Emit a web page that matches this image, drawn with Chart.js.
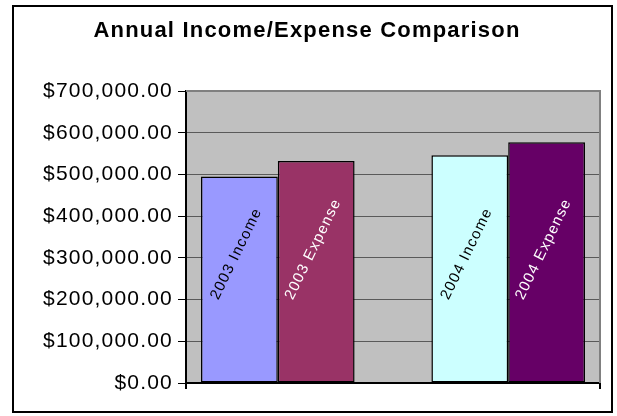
<!DOCTYPE html>
<html><head><meta charset="utf-8">
<script src="https://cdn.jsdelivr.net/npm/chart.js@4/dist/chart.umd.min.js"></script>
<style>html,body{margin:0;padding:0;background:#fff;overflow:hidden}canvas{display:block}</style>
</head><body>
<canvas id="c" width="617" height="416"></canvas>
<script>
const chartTitle = 'Annual Income/Expense Comparison';
const categories = [''];
const seriesNames = ['2003 Income', '2003 Expense', '', '2004 Income', '2004 Expense'];
const seriesValues = [495000, 532000, null, 546000, 577000];
const seriesColors = ['#9999FF', '#993366', 'rgba(0,0,0,0)', '#CCFFFF', '#660066'];
const labelColors = ['#000000', '#FFFFFF', '#000000', '#000000', '#FFFFFF'];
const yTickLabels = ['$0.00', '$100,000.00', '$200,000.00', '$300,000.00', '$400,000.00', '$500,000.00', '$600,000.00', '$700,000.00'];
const yMin = 0, yMax = 700000, yStep = 100000;

const FAMILY = '"Liberation Sans", Arial, sans-serif';
const LETTER = '1.2px';
const LABEL_ANGLE = -64 * Math.PI / 180;
const LABEL_BASE_VALUE = 202000;

const frame = {
  id: 'frame',
  beforeDraw(chart) {
    const ctx = chart.ctx, a = chart.chartArea;
    ctx.save();
    ctx.fillStyle = '#fff';
    ctx.fillRect(0, 0, chart.width, chart.height);
    ctx.strokeStyle = '#000';
    ctx.lineWidth = 2;
    ctx.strokeRect(13, 6, 599, 406);
    ctx.fillStyle = '#C0C0C0';
    ctx.fillRect(a.left, a.top, a.right - a.left, a.bottom - a.top);
    ctx.restore();
    ctx.letterSpacing = LETTER;
  },
  beforeDatasetsDraw(chart) {
    const ctx = chart.ctx, a = chart.chartArea;
    ctx.save();
    ctx.strokeStyle = '#808080';
    ctx.lineWidth = 2;
    ctx.beginPath();
    ctx.moveTo(a.left, a.top);
    ctx.lineTo(a.right, a.top);
    ctx.lineTo(a.right, a.bottom);
    ctx.stroke();
    ctx.restore();
  },
  afterDatasetsDraw(chart) {
    const ctx = chart.ctx, ys = chart.scales.y;
    ctx.save();
    ctx.font = '15px ' + FAMILY;
    ctx.letterSpacing = LETTER;
    ctx.textAlign = 'left';
    ctx.textBaseline = 'middle';
    const cos = Math.cos(LABEL_ANGLE);
    chart.data.datasets.forEach((ds, i) => {
      const name = seriesNames[i];
      if (!name) return;
      const bar = chart.getDatasetMeta(i).data[0];
      const w = ctx.measureText(name).width;
      const px = bar.x - 3 - (w / 2) * cos;
      const py = ys.getPixelForValue(LABEL_BASE_VALUE);
      ctx.save();
      ctx.translate(px, py);
      ctx.rotate(LABEL_ANGLE);
      ctx.fillStyle = labelColors[i];
      ctx.fillText(name, 0, 0);
      ctx.restore();
    });
    ctx.restore();
  }
};

new Chart(document.getElementById('c'), {
  type: 'bar',
  data: {
    labels: categories,
    datasets: seriesNames.map((n, i) => ({
      label: n,
      data: [seriesValues[i]],
      backgroundColor: seriesColors[i],
      borderColor: '#000',
      borderWidth: 1.5,
      borderSkipped: false,
      categoryPercentage: 0.9275,
      barPercentage: 1
    }))
  },
  options: {
    responsive: false,
    animation: false,
    devicePixelRatio: 1,
    layout: { padding: { left: 14, right: 17, top: 0, bottom: 23 } },
    plugins: {
      legend: { display: false },
      tooltip: { enabled: false },
      title: {
        display: true,
        text: chartTitle,
        color: '#000',
        font: { family: FAMILY, size: 22, weight: 'bold', lineHeight: 1.2 },
        padding: { top: 17.8, bottom: 46.8 }
      }
    },
    scales: {
      x: {
        type: 'category',
        offset: true,
        grid: { display: true, drawOnChartArea: false, drawTicks: true, tickLength: 6, color: '#000', tickColor: '#000', lineWidth: 2 },
        border: { display: true, color: '#000', width: 2 },
        ticks: { display: false },
        afterFit(s) { s.height = 10; }
      },
      y: {
        min: yMin,
        max: yMax,
        ticks: {
          stepSize: yStep,
          callback: (v, i) => yTickLabels[i],
          color: '#000',
          font: { family: FAMILY, size: 21 },
          padding: 5
        },
        grid: {
          color: (c) => (c.tick && c.tick.value === yMax) ? '#808080' : '#5a5a5a',
          tickColor: '#000',
          tickLength: 8,
          lineWidth: 1
        },
        border: { display: true, color: '#000', width: 2 },
        afterFit(s) { s.width = 172; }
      }
    }
  },
  plugins: [frame]
});
</script>
</body></html>
